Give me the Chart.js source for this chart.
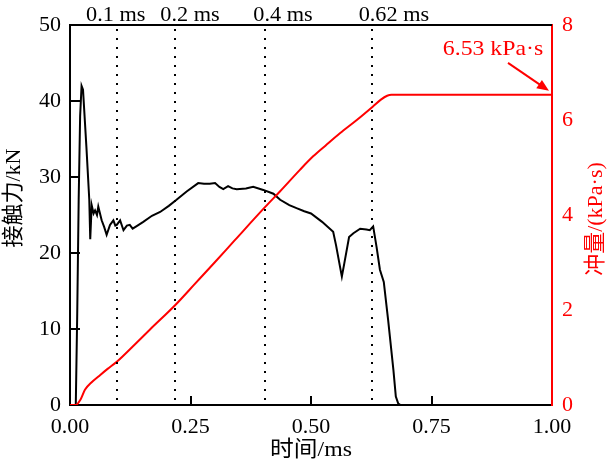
<!DOCTYPE html>
<html><head><meta charset="utf-8">
<script src="https://cdn.jsdelivr.net/npm/chart.js@4.4.1/dist/chart.umd.min.js"></script>
<style>html,body{margin:0;padding:0;background:#fff}#wrap{width:609px;height:463px}</style>
</head><body><div id="wrap"><canvas id="c" width="609" height="463"></canvas></div>
<script>
// ---- data ----
const forceTime = [0,0.012,0.015,0.018,0.021,0.024,0.027,0.034,0.040,0.042,0.045,0.049,0.052,0.056,0.0587,0.0657,0.071,0.076,0.083,0.090,0.094,0.097,0.104,0.111,0.118,0.124,0.130,0.140,0.152,0.170,0.187,0.205,0.221,0.242,0.266,0.278,0.290,0.301,0.310,0.318,0.328,0.337,0.346,0.365,0.380,0.401,0.422,0.436,0.455,0.470,0.486,0.500,0.523,0.546,0.552,0.559,0.564,0.569,0.579,0.588,0.602,0.615,0.622,0.629,0.636,0.643,0.651,0.660,0.671,0.676,0.681,0.686];
const forceValue = [0,0,12,27,38,42,41.5,34,27,21.8,26.3,25.2,25.6,25.0,26.1,24.3,23.4,22.4,23.7,24.3,23.6,23.7,24.3,23.0,23.6,23.7,23.2,23.6,24.1,24.9,25.4,26.2,27.0,28.1,29.2,29.1,29.1,29.2,28.7,28.4,28.8,28.5,28.4,28.5,28.7,28.3,27.8,27.0,26.3,25.9,25.5,25.2,24.1,22.8,21.0,18.6,16.9,18.6,22.1,22.6,23.2,23.1,23.0,23.5,20.8,17.8,16.2,11.2,4.6,1.1,0.2,0];
const impulseTime = [0,0.012,0.021,0.031,0.045,0.059,0.078,0.097,0.135,0.166,0.218,0.260,0.300,0.342,0.405,0.436,0.477,0.505,0.530,0.560,0.595,0.628,0.645,0.658,0.667,1.0];
const impulseValue = [0,0,0.10,0.32,0.48,0.60,0.76,0.91,1.28,1.59,2.10,2.56,3.00,3.47,4.17,4.50,4.95,5.24,5.46,5.72,6.00,6.28,6.43,6.51,6.53,6.53];
const markerTime = [0.098,0.218,0.405,0.627];
const markerLabel = ['0.1 ms','0.2 ms','0.4 ms','0.62 ms'];
const xTicks = [0,0.25,0.5,0.75,1.0];
const forceTicks = [0,10,20,30,40,50];
const impulseTicks = [0,2,4,6,8];
const finalImpulse = 6.53;
const annotationText = '6.53 kPa·s';
const xTitle = '时间/ms';
const forceTitle = '接触力/kN';
const impulseTitle = '冲量/(kPa·s)';

const FONT = "'Liberation Serif','Noto Sans CJK SC',serif";
const RED = '#ff0000';

const forcePts = forceTime.map((t,i)=>({x:t,y:forceValue[i]}));
const impulsePts = impulseTime.map((t,i)=>({x:t,y:impulseValue[i]}));

function seg(ctx,x1,y1,x2,y2){ ctx.beginPath(); ctx.moveTo(x1,y1); ctx.lineTo(x2,y2); ctx.stroke(); }
function wideText(ctx,s,x,y,sx){ ctx.save(); ctx.translate(x,y); ctx.scale(sx,1); ctx.fillText(s,0,0); ctx.restore(); }

const deco = {
  id:'deco',
  afterDraw(chart){
    const ctx = chart.ctx, a = chart.chartArea;
    const xs = chart.scales.x, ys = chart.scales.y, y2 = chart.scales.y2;
    ctx.save();
    ctx.setLineDash([]); ctx.lineCap='butt';
    ctx.strokeStyle='#000'; ctx.fillStyle='#000'; ctx.lineWidth=2;
    // top border
    ctx.fillRect(a.left-1, a.top-1, a.right-a.left+1, 2);
    // inward ticks
    ys.ticks.forEach(tk=>{
      const v = tk.value;
      if (v>ys.min && v<ys.max) { const p=Math.round(ys.getPixelForValue(v)); ctx.fillRect(a.left, p-1, 10, 2); }
    });
    xs.ticks.forEach(tk=>{
      const v = tk.value;
      if (v>xs.min && v<xs.max) { const p=Math.round(xs.getPixelForValue(v)); ctx.fillRect(p-1, a.bottom-9, 2, 9); }
    });
    // dotted markers
    ctx.setLineDash([2,7]);
    for (const t of markerTime) { const p=Math.round(xs.getPixelForValue(t)); seg(ctx, p, a.top+4, p, a.bottom); }
    ctx.setLineDash([]);
    // marker labels
    const labelCenter = [0.095,0.249,0.442,0.672];
    ctx.font='21px '+FONT; ctx.textAlign='center'; ctx.textBaseline='middle';
    markerLabel.forEach((s,i)=>wideText(ctx, s, xs.getPixelForValue(labelCenter[i]), 15, 1.06));
    // annotation arrow
    const tipX = xs.getPixelForValue(1.0)-3, tipY = y2.getPixelForValue(finalImpulse)-4;
    const sx = tipX-41, sy = tipY-28;
    ctx.strokeStyle=RED; ctx.fillStyle=RED; ctx.lineWidth=2;
    const ang = Math.atan2(tipY-sy, tipX-sx);
    seg(ctx, sx, sy, tipX-8*Math.cos(ang), tipY-8*Math.sin(ang));
    ctx.beginPath(); ctx.moveTo(tipX,tipY);
    ctx.lineTo(tipX-12*Math.cos(ang)+5*Math.sin(ang), tipY-12*Math.sin(ang)-5*Math.cos(ang));
    ctx.lineTo(tipX-12*Math.cos(ang)-5*Math.sin(ang), tipY-12*Math.sin(ang)+5*Math.cos(ang));
    ctx.closePath(); ctx.fill();
    ctx.font='22px '+FONT; ctx.textAlign='center'; ctx.textBaseline='middle';
    wideText(ctx, annotationText, tipX-56, tipY-42, 1.08);
    // axis titles
    ctx.font='22px '+FONT; ctx.textAlign='center'; ctx.textBaseline='middle';
    ctx.fillStyle='#000';
    wideText(ctx, xTitle, (a.left+a.right)/2, 450, 1.08);
    ctx.save(); ctx.translate(14,198); ctx.rotate(-Math.PI/2); ctx.fillText(forceTitle,0,0); ctx.restore();
    ctx.fillStyle=RED;
    ctx.save(); ctx.translate(596,219); ctx.rotate(-Math.PI/2); ctx.fillText(impulseTitle,0,0); ctx.restore();
    ctx.restore();
  }
};

new Chart(document.getElementById('c'), {
  type:'line',
  data:{ datasets:[
    {label:'冲量', data:impulsePts, yAxisID:'y2', borderColor:RED, borderWidth:2, pointRadius:0, cubicInterpolationMode:'monotone', fill:false},
    {label:'接触力', data:forcePts, yAxisID:'y', borderColor:'#000', borderWidth:2, pointRadius:0, tension:0, fill:false}
  ]},
  options:{
    responsive:false, animation:false, devicePixelRatio:1,
    layout:{padding:{top:25,left:0,right:0,bottom:0}},
    plugins:{legend:{display:false}, tooltip:{enabled:false}},
    scales:{
      x:{type:'linear', position:'bottom', min:0, max:1,
        afterBuildTicks(s){ s.ticks = xTicks.map(v=>({value:v})); },
        afterFit(s){ s.height=58; },
        grid:{display:false, drawTicks:false},
        border:{display:true, color:'#000', width:2},
        ticks:{color:'#000', padding:9, maxRotation:0, font:{family:FONT,size:22}, callback:v=>Number(v).toFixed(2)}
      },
      y:{type:'linear', position:'left', min:0, max:50,
        afterBuildTicks(s){ s.ticks = forceTicks.map(v=>({value:v})); },
        afterFit(s){ s.width=70; },
        grid:{display:false, drawTicks:false},
        border:{display:true, color:'#000', width:2},
        ticks:{color:'#000', padding:9, font:{family:FONT,size:22}}
      },
      y2:{type:'linear', position:'right', min:0, max:8,
        afterBuildTicks(s){ s.ticks = impulseTicks.map(v=>({value:v})); },
        afterFit(s){ s.width=57; },
        grid:{display:false, drawTicks:false},
        border:{display:true, color:RED, width:2},
        ticks:{color:RED, padding:10, font:{family:FONT,size:22}}
      }
    }
  },
  plugins:[deco]
});
</script></body></html>
